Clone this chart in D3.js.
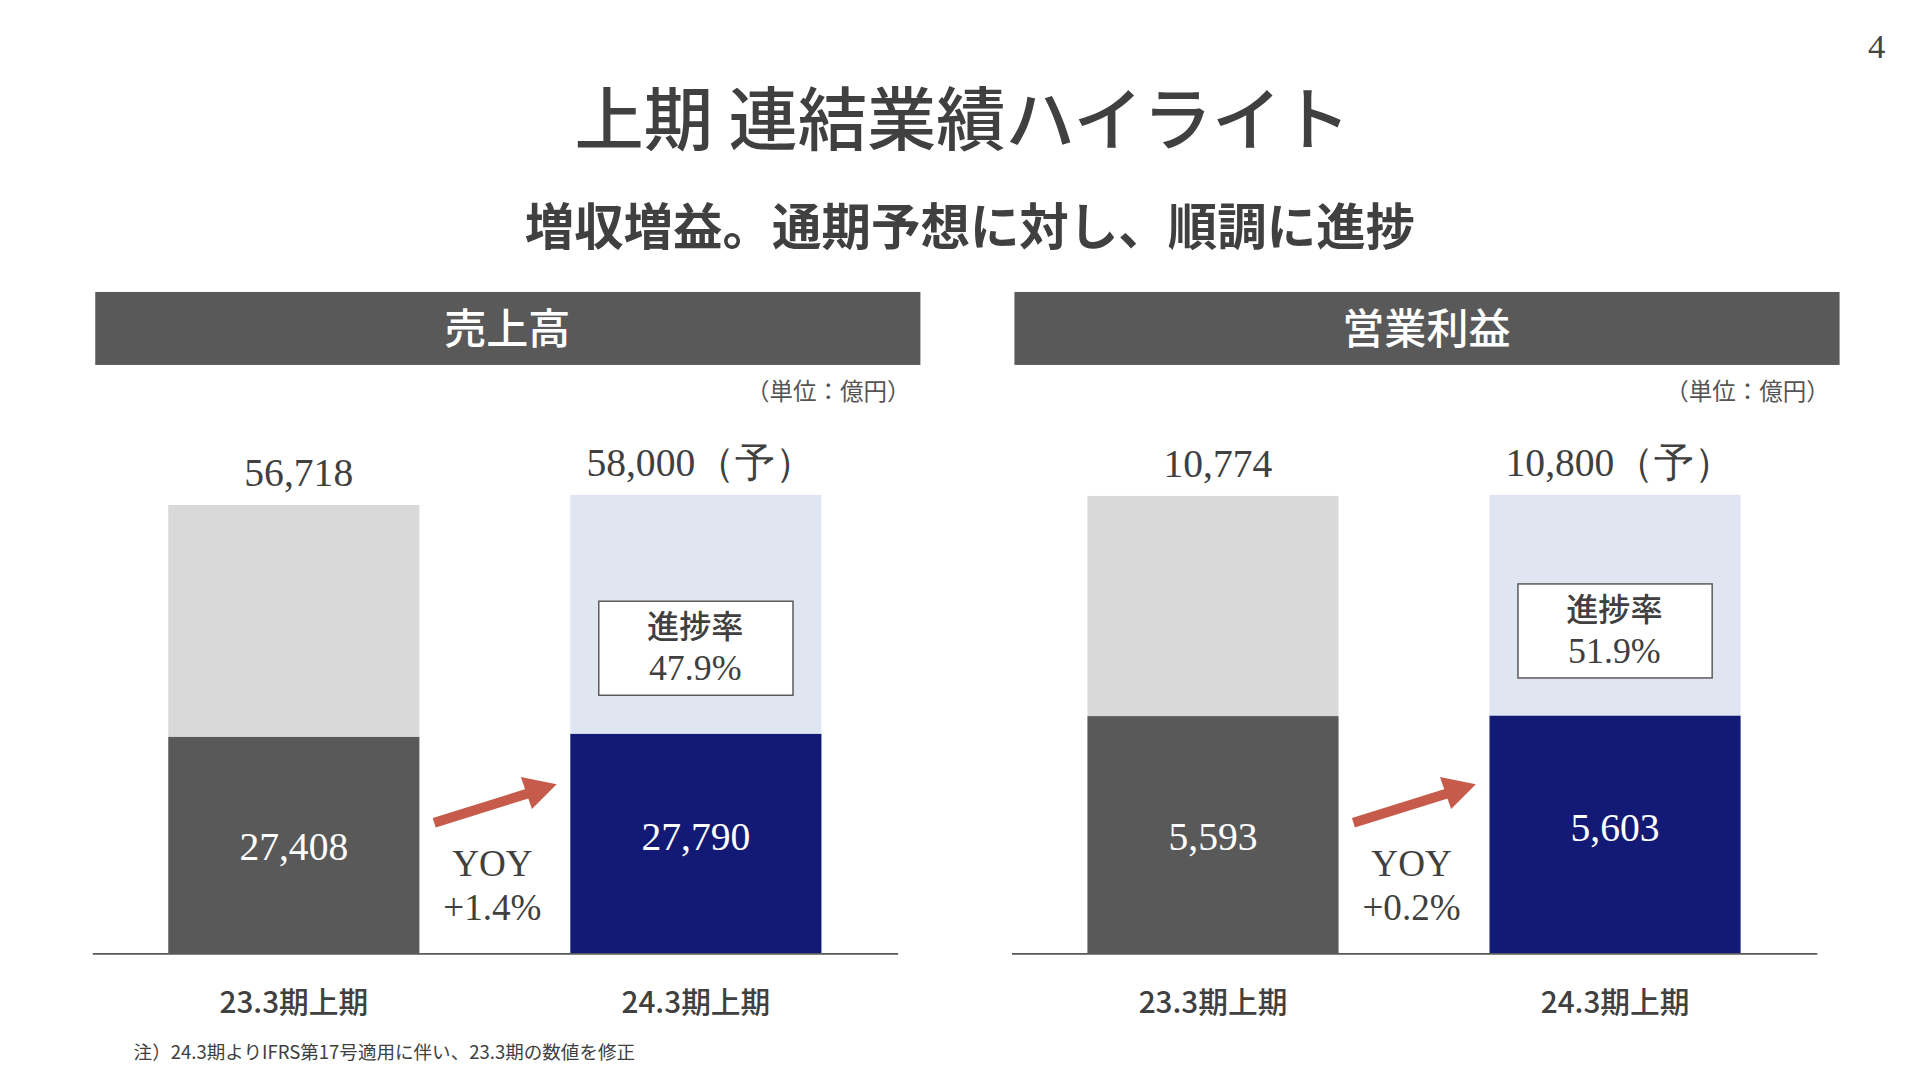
<!DOCTYPE html>
<html><head><meta charset="utf-8">
<script src="https://cdn.jsdelivr.net/npm/d3@7"></script>
<style>body{margin:0;background:#fff}svg{display:block}</style>
</head><body>
<svg id="c" width="1920" height="1080" viewBox="0 0 1552 873"></svg>
<script>
const periods = ['23.3期上期', '24.3期上期'];
const salesTotal = [56718, 58000];
const salesH1 = [27408, 27790];
const opTotal = [10774, 10800];
const opH1 = [5593, 5603];
const progress = ['47.9%', '51.9%'];
const yoy = ['+1.4%', '+0.2%'];

const jp = '"Noto Sans CJK JP", sans-serif';
const num = '"Liberation Serif", "DejaVu Serif", serif';
const svg = d3.select('#c');
const fmt = d3.format(',');

svg.append('text').attr('x', 1517).attr('y', 47).attr('text-anchor', 'middle')
  .style('font', `28px ${num}`).attr('fill', '#444').text('4');
svg.append('text').attr('x', 778).attr('y', 117).attr('text-anchor', 'middle')
  .style('font', `500 56px ${jp}`).attr('fill', '#404040').text('上期 連結業績ハイライト');
svg.append('text').attr('x', 784).attr('y', 198).attr('text-anchor', 'middle')
  .style('font', `700 40px ${jp}`).attr('fill', '#404040').text('増収増益。通期予想に対し、順調に進捗');
svg.append('text').attr('x', 108).attr('y', 856)
  .style('font', `15px ${jp}`).attr('fill', '#404040').text('注）24.3期よりIFRS第17号適用に伴い、23.3期の数値を修正');

function panel(ox, title, total, h1, prog, yy, boxTop) {
  const g = svg.append('g').attr('transform', `translate(${ox},0)`);
  g.append('rect').attr('x', 77).attr('y', 236).attr('width', 667).attr('height', 59).attr('fill', '#595959');
  g.append('text').attr('x', 410).attr('y', 278).attr('text-anchor', 'middle')
    .style('font', `500 34px ${jp}`).attr('fill', '#fff').text(title);
  g.append('text').attr('x', 736).attr('y', 323).attr('text-anchor', 'end')
    .style('font', `19px ${jp}`).attr('fill', '#555').text('（単位：億円）');

  const x = d3.scaleBand().domain(periods).range([136, 664]).paddingInner(122 / 325);
  const y = d3.scaleLinear().domain([0, total[1]]).range([771, 400]);
  const bw = x.bandwidth();
  const topCol = ['#d9d9d9', '#dfe6f2'], botCol = ['#595959', '#131a75'];

  periods.forEach((p, i) => {
    const x0 = x(p);
    g.append('rect').attr('x', x0).attr('y', y(total[i])).attr('width', bw)
      .attr('height', y(h1[i]) - y(total[i])).attr('fill', topCol[i]);
    g.append('rect').attr('x', x0).attr('y', y(h1[i])).attr('width', bw)
      .attr('height', 771 - y(h1[i])).attr('fill', botCol[i]);
    g.append('text').attr('x', i ? x0 + bw / 2 + 4 : x0 + bw / 2 + 4).attr('y', y(total[i]) - 15)
      .attr('text-anchor', 'middle').style('font', `32px ${num}`).attr('fill', '#404040')
      .text(fmt(total[i]) + (i ? '（予）' : ''));
    g.append('text').attr('x', x0 + bw / 2).attr('y', (y(h1[i]) + 771) / 2 + (i ? 5 : 12))
      .attr('text-anchor', 'middle').style('font', `32px ${num}`).attr('fill', '#fff')
      .text(fmt(h1[i]));
    g.append('text').attr('x', x0 + bw / 2).attr('y', 819).attr('text-anchor', 'middle')
      .style('font', `500 24px ${jp}`).attr('fill', '#404040').text(p);
  });

  const bx = x(periods[1]) + 23;
  g.append('rect').attr('x', bx).attr('y', boxTop).attr('width', 157).attr('height', 76)
    .attr('fill', '#fff').attr('stroke', '#595959').attr('stroke-width', 1.2);
  g.append('text').attr('x', bx + 78).attr('y', boxTop + 30).attr('text-anchor', 'middle')
    .style('font', `500 26px ${jp}`).attr('fill', '#404040').text('進捗率');
  g.append('text').attr('x', bx + 78).attr('y', boxTop + 64).attr('text-anchor', 'middle')
    .style('font', `29px ${num}`).attr('fill', '#404040').text(prog);

  g.append('line').attr('x1', 75).attr('x2', 726).attr('y1', 771).attr('y2', 771)
    .attr('stroke', '#595959').attr('stroke-width', 1.5);

  g.append('line').attr('x1', 351).attr('y1', 665).attr('x2', 428).attr('y2', 641)
    .attr('stroke', '#c65b4b').attr('stroke-width', 8);
  g.append('path').attr('d', 'M450,634 L421,628 L430,654 Z').attr('fill', '#c65b4b');
  g.append('text').attr('x', 398).attr('y', 708).attr('text-anchor', 'middle')
    .style('font', `30px ${num}`).attr('fill', '#404040').text('YOY');
  g.append('text').attr('x', 398).attr('y', 744).attr('text-anchor', 'middle')
    .style('font', `30px ${num}`).attr('fill', '#404040').text(yy);
}

panel(0, '売上高', salesTotal, salesH1, progress[0], yoy[0], 486);
panel(743, '営業利益', opTotal, opH1, progress[1], yoy[1], 472);
</script>
</body></html>
